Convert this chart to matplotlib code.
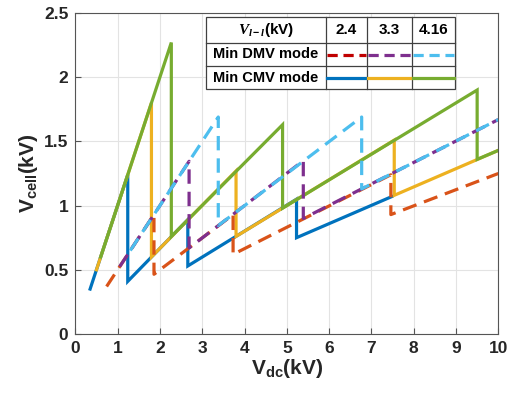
import matplotlib
matplotlib.use('Agg')
import matplotlib.pyplot as plt
from matplotlib.lines import Line2D
from matplotlib.patches import Rectangle

# Min CMV mode (solid) - vertices
cmv_24_x = [0.35, 1.24, 1.24, 2.66, 2.66, 5.23, 5.23, 7.48]
cmv_24_y = [0.35, 1.24, 0.41, 0.89, 0.53, 1.05, 0.75, 1.07]
cmv_33_x = [0.50, 1.80, 1.80, 3.80, 3.80, 7.54, 7.54, 10.0]
cmv_33_y = [0.50, 1.80, 0.60, 1.27, 0.76, 1.51, 1.08, 1.43]
cmv_416_x = [0.60, 2.27, 2.27, 4.90, 4.90, 9.50, 9.50, 10.0]
cmv_416_y = [0.60, 2.27, 0.76, 1.63, 0.98, 1.90, 1.36, 1.43]

# Min DMV mode (dashed)
dmv_24_x = [0.74, 1.86, 1.86, 3.73, 3.73, 7.46, 7.46, 10.0]
dmv_24_y = [0.37, 0.93, 0.465, 0.93, 0.62, 1.24, 0.93, 1.25]
dmv_33_x = [1.05, 2.69, 2.69, 5.39, 5.39, 10.0]
dmv_33_y = [0.525, 1.345, 0.67, 1.35, 0.90, 1.67]
dmv_416_x = [1.30, 3.38, 3.38, 6.77, 6.77, 10.0]
dmv_416_y = [0.65, 1.69, 0.845, 1.69, 1.13, 1.67]

voltages = ['2.4', '3.3', '4.16']
cmv_colors = ['#0072BD', '#EDB120', '#77AC30']
dmv_colors = ['#D95319', '#7E2F8E', '#4DBEEE']
dmv_legend_colors = ['#C00000', '#7E2F8E', '#4DBEEE']

plt.rcParams['font.family'] = 'Liberation Sans'
plt.rcParams['font.weight'] = 'bold'
plt.rcParams['mathtext.fontset'] = 'custom'
plt.rcParams['mathtext.rm'] = 'Liberation Sans:bold'
plt.rcParams['mathtext.bf'] = 'Liberation Sans:bold'
plt.rcParams['mathtext.it'] = 'Liberation Serif:italic:bold'

W, H = 507, 398
fig = plt.figure(figsize=(W / 100, H / 100), dpi=100)
ax = fig.add_axes([75.3 / W, 1 - 334 / H, (498.3 - 75.3) / W, (334 - 13) / H])

lw = 2.3
cmv = [(cmv_24_x, cmv_24_y), (cmv_33_x, cmv_33_y), (cmv_416_x, cmv_416_y)]
dmv = [(dmv_24_x, dmv_24_y), (dmv_33_x, dmv_33_y), (dmv_416_x, dmv_416_y)]
for (x, y), c in zip(cmv, cmv_colors):
    ax.plot(x, y, color=c, lw=lw, solid_joinstyle='miter')
for (x, y), c in zip(dmv, dmv_colors):
    ax.plot(x, y, color=c, lw=lw, dashes=(4.5, 2.5))

ax.set_xlim(0, 10)
ax.set_ylim(0, 2.5)
ax.set_xticks(range(0, 11))
ax.set_yticks([0, 0.5, 1, 1.5, 2, 2.5])
ax.set_yticklabels(['0', '0.5', '1', '1.5', '2', '2.5'])
ax.grid(True, color='#e3e3e3', lw=0.8)
ax.set_axisbelow(True)
ax.tick_params(direction='in', length=4, width=0.8, color='#555555', labelsize=12.5, pad=5)
for lab in ax.get_xticklabels() + ax.get_yticklabels():
    lab.set_fontweight('bold')
    lab.set_color('#262626')
for s in ax.spines.values():
    s.set_color('#555555')
    s.set_linewidth(0.8)
ax.set_xlabel(r'$\mathbf{V_{dc}}$(kV)', fontsize=15, fontweight='bold', labelpad=1, color='#262626')
ax.set_ylabel(r'$\mathbf{V_{cell}}$(kV)', fontsize=15, fontweight='bold', labelpad=3, color='#262626')


# table-style legend, drawn in figure pixels
def fx(px):
    return px / W


def fy(py):
    return 1 - py / H


cols = [206, 326, 367, 412, 455]
rows = [17, 43, 66, 89]
fig.add_artist(Rectangle((fx(cols[0]), fy(rows[-1])), fx(cols[-1]) - fx(cols[0]),
                         fy(rows[0]) - fy(rows[-1]), transform=fig.transFigure,
                         facecolor='white', edgecolor='#404040', lw=0.9, zorder=5))
for cx in cols[1:-1]:
    fig.add_artist(Line2D([fx(cx), fx(cx)], [fy(rows[0]), fy(rows[-1])],
                          transform=fig.transFigure, color='#404040', lw=0.9, zorder=6))
for ry in rows[1:-1]:
    fig.add_artist(Line2D([fx(cols[0]), fx(cols[-1])], [fy(ry), fy(ry)],
                          transform=fig.transFigure, color='#404040', lw=0.9, zorder=6))

fig.text(fx((cols[0] + cols[1]) / 2), fy((rows[0] + rows[1]) / 2), r'$V_{l-l}$(kV)',
         ha='center', va='center', fontsize=11, fontweight='bold', zorder=7)
for i, v in enumerate(voltages):
    fig.text(fx((cols[i + 1] + cols[i + 2]) / 2), fy((rows[0] + rows[1]) / 2), v,
             ha='center', va='center', fontsize=11, fontweight='bold', zorder=7)
fig.text(fx((cols[0] + cols[1]) / 2), fy((rows[1] + rows[2]) / 2), 'Min DMV mode',
         ha='center', va='center', fontsize=10.5, fontweight='bold', zorder=7)
fig.text(fx((cols[0] + cols[1]) / 2), fy((rows[2] + rows[3]) / 2), 'Min CMV mode',
         ha='center', va='center', fontsize=10.5, fontweight='bold', zorder=7)
for i in range(3):
    x0, x1 = fx(cols[i + 1] + 1), fx(cols[i + 2] - 1)
    fig.add_artist(Line2D([x0, x1], [fy((rows[1] + rows[2]) / 2)] * 2, transform=fig.transFigure,
                          color=dmv_legend_colors[i], lw=lw, dashes=(3.2, 1.8), zorder=7))
    fig.add_artist(Line2D([x0, x1], [fy((rows[2] + rows[3]) / 2)] * 2, transform=fig.transFigure,
                          color=cmv_colors[i], lw=lw, zorder=7))

fig.savefig('out.png', dpi=100)
